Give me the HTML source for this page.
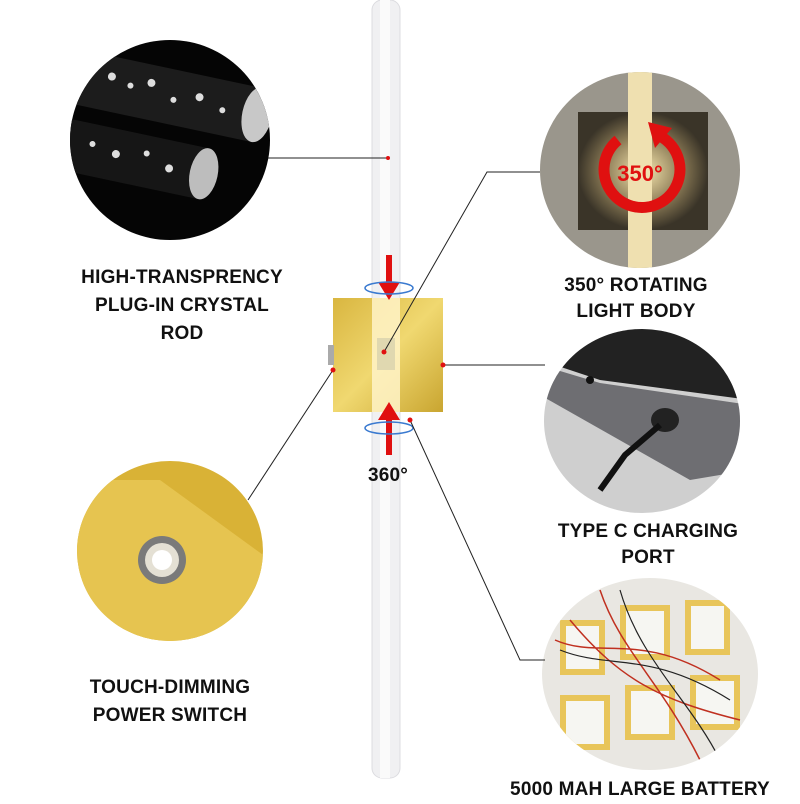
<!DOCTYPE html>
<html><head><style>
body{margin:0;width:800px;height:800px;background:#fff;position:relative;overflow:hidden;font-family:"Liberation Sans",sans-serif}
.t{position:absolute;font-weight:bold;font-size:19px;color:#111;text-align:center;line-height:28px;letter-spacing:0.2px}
</style></head><body>
<svg width="800" height="800" style="position:absolute;left:0;top:0">
<defs>
<linearGradient id="gold" x1="0" y1="0" x2="1" y2="1"><stop offset="0" stop-color="#d9b640"/><stop offset="0.5" stop-color="#f0d870"/><stop offset="1" stop-color="#c9a530"/></linearGradient>
<radialGradient id="glow" cx="50%" cy="50%" r="50%"><stop offset="0" stop-color="#f8e8b0"/><stop offset="0.6" stop-color="#8a7a55"/><stop offset="1" stop-color="#3a3428"/></radialGradient>
<clipPath id="c1"><ellipse cx="170" cy="140" rx="100" ry="100"/></clipPath>
<clipPath id="c2"><ellipse cx="640" cy="170" rx="100" ry="98"/></clipPath>
<clipPath id="c3"><ellipse cx="642" cy="421" rx="98" ry="92"/></clipPath>
<clipPath id="c4"><ellipse cx="170" cy="551" rx="93" ry="90"/></clipPath>
<clipPath id="c5"><ellipse cx="650" cy="674" rx="108" ry="96"/></clipPath>
</defs>
<rect x="372" y="0" width="28" height="778" rx="10" fill="#f0f0f2" stroke="#dcdce0"/>
<rect x="380" y="0" width="10" height="778" fill="#fafafa"/>
<g clip-path="url(#c1)"><rect x="60" y="30" width="220" height="220" fill="#050505"/>
<g transform="rotate(12 170 140)">
<rect x="40" y="70" width="210" height="55" fill="#1c1c1c"/>
<rect x="40" y="140" width="170" height="52" fill="#161616"/>
<ellipse cx="250" cy="97" rx="15" ry="28" fill="#c8c8c8"/><ellipse cx="210" cy="166" rx="14" ry="26" fill="#bdbdbd"/>
<g fill="#ddd"><circle cx="100" cy="90" r="4"/><circle cx="120" cy="95" r="3"/><circle cx="140" cy="88" r="4"/><circle cx="165" cy="100" r="3"/><circle cx="190" cy="92" r="4"/><circle cx="215" cy="100" r="3"/><circle cx="95" cy="160" r="3"/><circle cx="120" cy="165" r="4"/><circle cx="150" cy="158" r="3"/><circle cx="175" cy="168" r="4"/></g></g></g>
<g clip-path="url(#c2)"><rect x="530" y="60" width="220" height="220" fill="#9a968c"/>
<rect x="578" y="112" width="130" height="118" fill="url(#glow)"/>
<rect x="628" y="60" width="24" height="220" fill="#efe0b0"/>
<path d="M618,140 A38,38 0 1,0 660,136" fill="none" stroke="#e01010" stroke-width="11"/>
<polygon points="648,122 672,128 655,148" fill="#e01010"/>
<text x="640" y="181" font-family="Liberation Sans" font-weight="bold" font-size="22" fill="#e01010" text-anchor="middle">350°</text></g>
<g clip-path="url(#c3)"><rect x="540" y="325" width="210" height="200" fill="#cfcfcf"/>
<polygon points="540,325 750,325 750,400 600,380 540,360" fill="#222"/>
<polygon points="540,365 600,383 750,405 750,470 690,480 540,395" fill="#6e6e72"/>
<ellipse cx="665" cy="420" rx="14" ry="12" fill="#222"/>
<path d="M660,425 L625,455 L600,490" stroke="#111" stroke-width="6" fill="none"/>
<circle cx="590" cy="380" r="4" fill="#111"/></g>
<g clip-path="url(#c4)"><rect x="70" y="455" width="200" height="200" fill="#d9b236"/>
<polygon points="70,480 160,480 270,560 270,650 70,650" fill="#e6c450"/>
<polygon points="70,600 160,650 70,650" fill="#eee"/>
<circle cx="162" cy="560" r="24" fill="#7a7a7a"/><circle cx="162" cy="560" r="17" fill="#e4e0d4"/><circle cx="162" cy="560" r="10" fill="#fff"/></g>
<g clip-path="url(#c5)"><rect x="540" y="575" width="225" height="200" fill="#e9e7e2"/>
<g fill="#e8c55a"><rect x="560" y="620" width="45" height="55"/><rect x="620" y="605" width="50" height="55"/><rect x="685" y="600" width="45" height="55"/><rect x="560" y="695" width="50" height="55"/><rect x="625" y="685" width="50" height="55"/><rect x="690" y="675" width="50" height="55"/></g>
<g fill="#f6f6f2"><rect x="566" y="626" width="33" height="43"/><rect x="626" y="611" width="38" height="43"/><rect x="691" y="606" width="33" height="43"/><rect x="566" y="701" width="38" height="43"/><rect x="631" y="691" width="38" height="43"/><rect x="696" y="681" width="38" height="43"/></g>
<path d="M555,640 C600,660 640,630 720,680 M570,620 C620,680 660,700 740,720 M600,590 C620,650 660,680 700,760" stroke="#c03020" stroke-width="1.5" fill="none"/>
<path d="M560,650 C610,670 650,650 730,700 M620,590 C640,660 690,700 720,760" stroke="#222" stroke-width="1.2" fill="none"/></g>
<rect x="333" y="298" width="110" height="114" fill="url(#gold)"/>
<rect x="372" y="298" width="28" height="114" fill="#fff3c8" opacity="0.85"/>
<rect x="377" y="338" width="18" height="32" fill="#e0d8b0"/>
<rect x="328" y="345" width="6" height="20" fill="#aaa"/>
<polygon points="386,255 386,282 378,282 389,300 400,282 392,282 392,255" fill="#e01010"/>
<polygon points="386,455 386,420 378,420 389,402 400,420 392,420 392,455" fill="#e01010"/>
<ellipse cx="389" cy="288" rx="24" ry="6" fill="none" stroke="#3a7ad0" stroke-width="1.5"/>
<ellipse cx="389" cy="428" rx="24" ry="6" fill="none" stroke="#3a7ad0" stroke-width="1.5"/>
<g stroke="#222" stroke-width="1" fill="none">
<path d="M268,158 L388,158"/>
<path d="M540,172 L487,172 L384,352"/>
<path d="M443,365 L545,365"/>
<path d="M333,370 L248,500"/>
<path d="M410,420 L520,660 L545,660"/>
</g>
<g fill="#e01010"><circle cx="388" cy="158" r="2"/><circle cx="384" cy="352" r="2.5"/><circle cx="443" cy="365" r="2.5"/><circle cx="333" cy="370" r="2.5"/><circle cx="410" cy="420" r="2.5"/></g>
</svg>
<div class="t" style="left:50px;top:264px;width:264px">HIGH-TRANSPRENCY<br>PLUG-IN CRYSTAL<br>ROD</div>
<div class="t" style="left:506px;top:273px;width:260px;line-height:26px">350° ROTATING<br>LIGHT BODY</div>
<div class="t" style="left:348px;top:462px;width:80px">360°</div>
<div class="t" style="left:513px;top:519px;width:270px;line-height:26px">TYPE C CHARGING<br>PORT</div>
<div class="t" style="left:40px;top:674px;width:260px">TOUCH-DIMMING<br>POWER SWITCH</div>
<div class="t" style="left:480px;top:776px;width:320px">5000 MAH LARGE BATTERY</div>
</body></html>
